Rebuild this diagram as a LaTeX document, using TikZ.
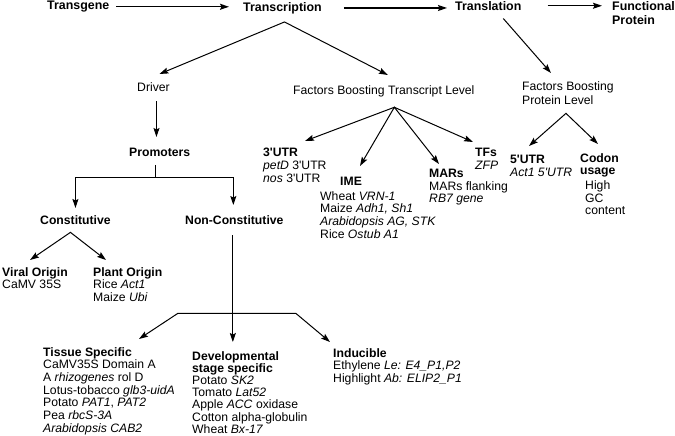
\documentclass[tikz,border=0pt]{standalone}
\usepackage{fontspec}
\setmainfont{Liberation Sans}
\usetikzlibrary{calc,positioning,arrows.meta}
\newcommand{\aps}{\textquotesingle}

\begin{document}
\begin{tikzpicture}[x=1pt,y=1pt,>={Stealth[length=9pt,width=6pt,inset=1.5pt]}]
  \tikzset{
    lbl/.style={inner sep=0pt, anchor=north west, align=left,
      font=\fontsize{12.2}{12.7}\selectfont},
    mainlbl/.style={lbl, font=\fontsize{12.4}{14}\selectfont\bfseries},
    conn/.style={line width=1pt},
    mainconn/.style={line width=1.3pt},
  }
  \useasboundingbox (0,0) rectangle (675,-436);

  % main flow
  \node[mainlbl] (transgene) at (47,-1) {Transgene};
  \node[mainlbl] (transcription) at (243,-2) {Transcription};
  \node[mainlbl] (translation) at (455,-1) {Translation};
  \node[mainlbl] (functional) at (612,-1) {Functional\\Protein};

  \draw[mainconn,->,shorten <=7pt,shorten >=14pt] (transgene.east) -- (transgene.east -| transcription.west);
  \draw[mainconn,->,shorten <=22pt,shorten >=8pt] (transcription.east) -- (transcription.east -| translation.west);
  \draw[mainconn,->,shorten <=26pt,shorten >=10pt] (translation.east) -- (translation.east -| functional.west);

  % second level
  \node[lbl] (driver) at (137,-82) {Driver};
  \node[lbl] (tfactors) at (293,-85) {Factors Boosting Transcript Level};
  \node[lbl, font=\fontsize{12.2}{14}\selectfont] (pfactors) at (522,-81) {Factors Boosting\\Protein Level};

  \coordinate (tsplit) at ([shift={(2pt,-8pt)}]transcription.south);
  \draw[conn,<->] ([shift={(6pt,8pt)}]driver.north) -- (tsplit) -- ([shift={(4pt,10pt)}]tfactors.north);
  \draw[conn,->] ([shift={(15pt,-8pt)}]translation.south) -- ([shift={(-17pt,8pt)}]pfactors.north);

  % promoters
  \node[lbl, font=\fontsize{12.2}{12.7}\selectfont\bfseries] (promoters) at (129,-148) {Promoters};
  \node[lbl, font=\fontsize{12.2}{12.7}\selectfont\bfseries] (constitutive) at (40,-215) {Constitutive};
  \node[lbl, font=\fontsize{12.2}{12.7}\selectfont\bfseries] (nonconst) at (185,-215) {Non-Constitutive};

  \draw[conn,->,shorten <=10pt,shorten >=11pt] ([xshift=3pt]driver.south) -- ([xshift=3pt]driver.south |- promoters.north);
  \coordinate (pfork) at ([shift={(-4pt,-21pt)}]promoters.south);
  \draw[conn] ([shift={(-4pt,-8pt)}]promoters.south) -- (pfork);
  \draw[conn,<->] ([yshift=7pt]constitutive.north) |- (pfork) -| ([shift={(-1pt,10pt)}]nonconst.north);

  \node[lbl] (viral) at (2,-267) {\textbf{Viral Origin}\\CaMV 35S};
  \node[lbl] (plant) at (93,-267) {\textbf{Plant Origin}\\Rice \textit{Act1}\\Maize \textit{Ubi}};

  \coordinate (csplit) at ([shift={(-5pt,-8pt)}]constitutive.south);
  \draw[conn,<->] ([shift={(28pt,7pt)}]viral.north west) -- (csplit) -- ([shift={(13pt,7pt)}]plant.north west);

  \node[lbl] (tissue) at (43,-347) {\textbf{Tissue Specific}\\CaMV35S Domain A\\A \textit{rhizogenes} rol D\\Lotus-tobacco \textit{glb3-uidA}\\Potato \textit{PAT1}, \textit{PAT2}\\Pea \textit{rbcS-3A}\\\textit{Arabidopsis CAB2}};
  \node[lbl, font=\fontsize{12.2}{12.2}\selectfont] (develop) at (192,-351) {\textbf{Developmental}\\\textbf{stage specific}\\Potato \textit{SK2}\\Tomato \textit{Lat52}\\Apple \textit{ACC} oxidase\\Cotton alpha-globulin\\Wheat \textit{Bx-17}};
  \node[lbl] (inducible) at (333,-348) {\textbf{Inducible}\\Ethylene \textit{Le: E4\_P1,P2}\\Highlight \textit{Ab: ELIP2\_P1}};

  \coordinate (ncbar) at ([shift={(-1.5pt,-89pt)}]nonconst.south);
  \draw[conn,->,shorten >=9pt] ([shift={(-1.5pt,-11pt)}]nonconst.south) -- (ncbar |- develop.north);
  \draw[conn,<->] ([shift={(96pt,8pt)}]tissue.north west) -- ([xshift=-55pt]ncbar) -- ([xshift=63pt]ncbar) -- ([shift={(-3pt,6pt)}]inducible.north west);

  % factors boosting transcript level
  \node[lbl] (utr3) at (263,-148) {\textbf{3\aps UTR}\\\textit{petD} 3\aps UTR\\\textit{nos} 3\aps UTR};
  \node[lbl] (ime) at (320,-177) {\hspace*{20pt}\textbf{IME}\\[2pt]Wheat \textit{VRN-1}\\Maize \textit{Adh1, Sh1}\\\textit{Arabidopsis AG, STK}\\Rice \textit{Ostub A1}};
  \node[lbl] (mars) at (429,-169) {\textbf{MARs}\\MARs flanking\\\textit{RB7 gene}};
  \node[lbl] (tfs) at (475,-148) {\textbf{TFs}\\\textit{ZFP}};

  \coordinate (fsplit) at ([shift={(10.5pt,-10.5pt)}]tfactors.south);
  \draw[conn,<->] ([shift={(42pt,7pt)}]utr3.north west) -- (fsplit) -- ([shift={(-2pt,6pt)}]tfs.north west);
  \draw[conn,<->] ([shift={(40pt,11pt)}]ime.north west) -- (fsplit) -- ([shift={(10pt,5pt)}]mars.north west);

  % factors boosting protein level
  \node[lbl] (utr5) at (510,-155) {\textbf{5\aps UTR}\\\textit{Act1 5\aps UTR}};
  \node[lbl] (codon) at (580,-153) {\textbf{Codon}\\\textbf{usage}\\[2pt]\hspace*{5pt}High\\\hspace*{5pt}GC\\\hspace*{5pt}content};

  \coordinate (psplit) at ([shift={(-2pt,-9pt)}]pfactors.south);
  \draw[conn,<->] ([shift={(19pt,9pt)}]utr5.north west) -- (psplit) -- ([shift={(18pt,9pt)}]codon.north west);
\end{tikzpicture}
\end{document}
